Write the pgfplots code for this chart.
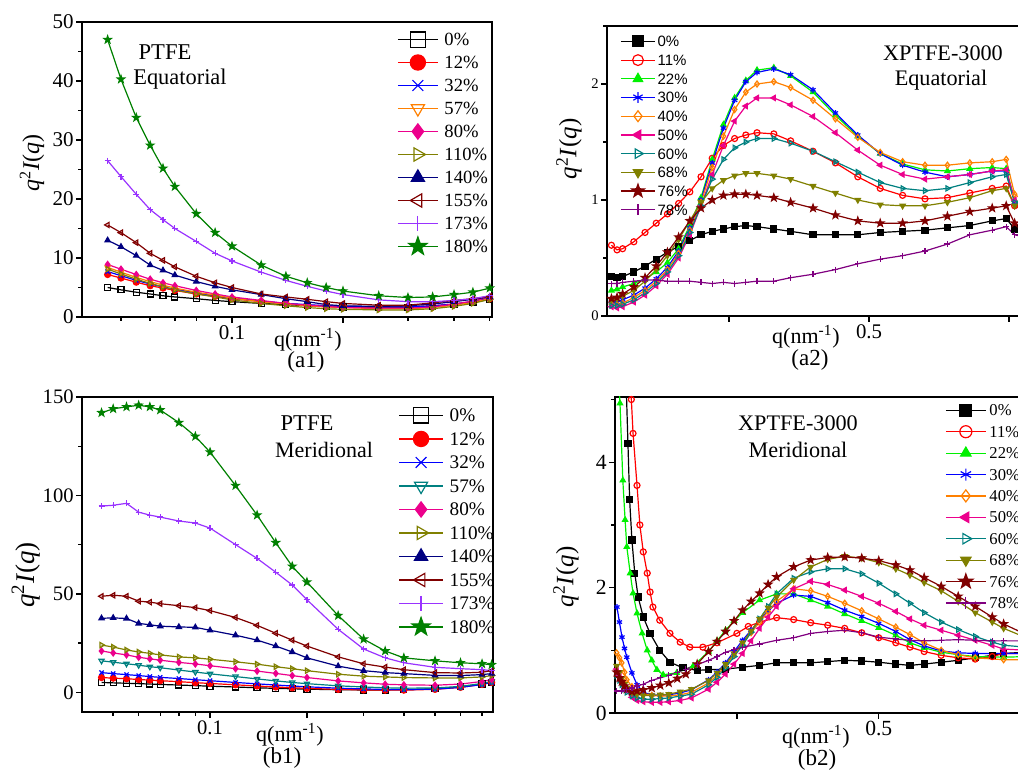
\documentclass[border=0pt]{standalone}
\usepackage{fontspec}
\setmainfont{Liberation Serif}
\newfontfamily\arialf{Liberation Sans}
\usepackage{pgfplots}
\usepackage{pgfplotstable}
\pgfplotsset{compat=1.18}
\newcommand{\fsz}[1]{\fontsize{#1}{#1}\selectfont}
\newcommand{\X}[1]{#1*0.5pt}
\newcommand{\Y}[1]{(772-#1)*0.5pt}
\definecolor{cOrange}{RGB}{255,128,0}
\definecolor{cOlive}{RGB}{128,128,0}
\definecolor{cNavy}{RGB}{0,0,128}
\definecolor{cMaroon}{RGB}{128,0,0}
\definecolor{cViolet}{RGB}{153,51,255}
\definecolor{cGreen}{RGB}{0,128,0}
\definecolor{cTeal}{RGB}{0,128,128}
\definecolor{cLime}{RGB}{0,240,0}
\definecolor{cPurple}{RGB}{128,0,128}
\pgfdeclareplotmark{fstar}{%
  \pgfpathmoveto{\pgfqpointpolar{90}{1.25\pgfplotmarksize}}%
  \pgfpathlineto{\pgfqpointpolar{126}{0.5\pgfplotmarksize}}%
  \pgfpathlineto{\pgfqpointpolar{162}{1.25\pgfplotmarksize}}%
  \pgfpathlineto{\pgfqpointpolar{198}{0.5\pgfplotmarksize}}%
  \pgfpathlineto{\pgfqpointpolar{234}{1.25\pgfplotmarksize}}%
  \pgfpathlineto{\pgfqpointpolar{270}{0.5\pgfplotmarksize}}%
  \pgfpathlineto{\pgfqpointpolar{306}{1.25\pgfplotmarksize}}%
  \pgfpathlineto{\pgfqpointpolar{342}{0.5\pgfplotmarksize}}%
  \pgfpathlineto{\pgfqpointpolar{18}{1.25\pgfplotmarksize}}%
  \pgfpathlineto{\pgfqpointpolar{54}{0.5\pgfplotmarksize}}%
  \pgfpathclose\pgfusepathqfillstroke}
\pgfplotsset{
  origin/.style={scale only axis, anchor=south west, tick align=outside, tick pos=left,
    axis line style={line width=0.85pt}, major tick length=3pt, minor tick length=1.8pt,
    every tick/.style={black, line width=0.7pt},
    /pgf/number format/assume math mode=true,
    legend cell align=left,
    every axis plot/.append style={line width=0.6pt, mark size=1.5pt},
    yticklabel style={inner sep=1pt}, xticklabel style={inner sep=1pt}},
  p0/.style={black, mark=square, mark options={solid,fill=white}},
  p12/.style={red, mark=*},
  p32/.style={blue, mark=x},
  p57/.style={cOrange, mark=triangle, mark options={solid,fill=white,rotate=180}},
  p57b/.style={cTeal, mark=triangle, mark options={solid,fill=white,rotate=180}},
  p80/.style={magenta, mark=diamond*},
  p110/.style={cOlive, mark=triangle, mark options={solid,fill=white,rotate=-90}},
  p140/.style={cNavy, mark=triangle*},
  p155/.style={cMaroon, mark=triangle, mark options={solid,fill=white,rotate=90}},
  p173/.style={cViolet, mark=+},
  p180/.style={cGreen, mark=fstar},
  x0/.style={black, mark=square*},
  x11/.style={red, mark=o, mark options={solid,fill=white}},
  x22/.style={cLime, mark=triangle*},
  x30/.style={blue, mark=asterisk},
  x40/.style={cOrange, mark=diamond, mark options={solid,fill=white}},
  x50/.style={magenta, mark=triangle*, mark options={rotate=90}},
  x60/.style={cTeal, mark=triangle, mark options={solid,fill=white,rotate=-90}},
  x68/.style={cOlive, mark=triangle*, mark options={rotate=180}},
  x76/.style={cMaroon, mark=fstar},
  x78/.style={cPurple, mark=+},
}
\pgfplotstableread{
q s0 s1 s2 s3 s4 s5 s6 s7 s8 s9
0.046 5.0 7.2 7.7 8.4 8.9 8.1 13.0 15.6 26.5 47.0
0.05  4.6 6.6 7.0 7.6 8.1 7.3 11.9 14.3 23.8 40.3
0.055 4.2 5.9 6.2 6.7 7.2 6.4 10.4 12.6 20.8 33.8
0.06  3.9 5.3 5.6 6.0 6.4 5.7 8.8 10.8 18.2 29.1
0.065 3.6 4.9 5.1 5.4 5.8 5.1 7.9 9.6 16.5 25.2
0.07  3.4 4.5 4.7 4.9 5.3 4.6 7.1 8.5 15.0 22.1
0.08  3.1 3.9 4.1 4.2 4.5 3.9 6.0 6.9 12.8 17.5
0.09  2.8 3.5 3.6 3.7 3.9 3.4 5.2 5.8 10.8 14.3
0.1   2.6 3.1 3.2 3.2 3.4 2.9 4.6 5.0 9.5 12.0
0.12  2.3 2.6 2.7 2.6 2.8 2.3 3.8 3.9 7.6 8.8
0.14  2.1 2.3 2.3 2.2 2.3 1.9 3.1 3.4 6.2 6.9
0.16  1.9 2.0 2.1 1.9 2.0 1.6 2.6 3.0 5.2 5.8
0.18  1.8 1.9 1.9 1.7 1.8 1.4 2.1 2.6 4.4 5.0
0.2   1.7 1.8 1.8 1.6 1.6 1.3 1.9 2.3 3.8 4.4
0.25  1.6 1.7 1.7 1.4 1.5 1.2 1.8 2.0 2.9 3.6
0.3   1.6 1.7 1.7 1.4 1.5 1.2 1.9 2.0 2.6 3.3
0.35  1.8 1.9 1.9 1.6 1.7 1.4 2.2 2.4 2.6 3.4
0.4   2.1 2.2 2.2 2.0 2.2 1.8 2.6 2.8 2.8 3.8
0.45  2.5 2.6 2.6 2.5 2.7 2.3 3.0 3.1 3.1 4.2
0.5   3.0 3.1 3.2 3.1 3.4 3.0 3.4 3.5 3.6 4.9
}\tAone
\pgfplotstableread{
q s0 s1 s2 s3 s4 s5 s6 s7 s8 s9
0.046 5.0 7.5 10.0 16.0 21.0 24.0 37.6 48.8 94.6 142
0.05  4.8 7.2 9.5 15.3 20.0 23.0 37.8 49.3 95.0 144
0.055 4.6 6.9 9.0 14.5 19.0 21.5 37.5 48.8 96.0 145
0.06  4.4 6.5 8.5 13.8 17.8 20.5 35.0 46.3 91.5 145.8
0.065 4.2 6.2 8.0 13.0 17.0 19.8 34.3 45.8 90.0 145
0.07  4.0 5.9 7.6 12.5 16.3 19.0 33.6 45.0 89.0 143.4
0.08  3.7 5.4 7.0 11.3 15.2 18.0 33.2 44.0 87.0 137
0.09  3.4 4.9 6.4 10.3 14.4 17.5 33.0 43.0 86.0 130
0.1   3.1 4.5 5.9 9.4 13.5 16.8 31.5 41.5 83.4 122
0.12  2.7 3.8 5.0 8.0 12.0 15.5 29.0 38.0 75.0 105
0.14  2.3 3.2 4.3 6.8 10.8 14.3 26.5 34.0 68.0 90
0.16  2.0 2.7 3.7 5.8 9.6 13.0 23.5 30.0 61.0 76
0.18  1.8 2.3 3.2 5.0 8.5 12.0 20.5 26.5 54.5 64
0.2   1.6 2.0 2.8 4.4 7.5 11.0 17.5 23.5 47.0 56
0.25  1.3 1.5 2.1 3.3 5.8 9.2 13.3 18.0 32.0 39
0.3   1.2 1.2 1.7 2.7 4.8 8.2 11.0 14.5 22.0 27
0.35  1.2 1.1 1.5 2.3 4.1 7.8 10.0 12.8 17.5 21
0.4   1.3 1.1 1.4 2.1 3.8 7.5 9.5 11.5 15.0 17.5
0.5   1.8 1.5 1.6 2.2 3.6 7.3 8.6 10.0 12.7 16
0.6   2.8 2.5 2.5 3.0 4.2 7.3 8.5 9.8 12.0 15
0.7   4.2 4.0 4.0 4.5 5.5 7.8 9.0 10.2 11.5 14.5
0.75  5.0 5.0 5.0 5.5 6.5 8.5 9.5 11.0 11.0 14
}\tBone
\pgfplotstableread{
q s0 s1 s2 s3 s4 s5 s6 s7 s8 s9
0.04  0.34 0.61 0.22 0.12 0.10 0.08 0.09 0.14 0.15 0.28
0.05  0.33 0.57 0.23 0.12 0.10 0.07 0.09 0.15 0.16 0.28
0.06  0.34 0.58 0.25 0.14 0.11 0.08 0.10 0.17 0.19 0.29
0.08  0.38 0.64 0.28 0.18 0.16 0.12 0.14 0.22 0.25 0.30
0.1   0.43 0.72 0.32 0.24 0.22 0.18 0.20 0.30 0.33 0.31
0.12  0.49 0.80 0.38 0.32 0.30 0.26 0.28 0.40 0.43 0.31
0.14  0.55 0.88 0.46 0.42 0.40 0.36 0.38 0.52 0.55 0.30
0.16  0.60 0.97 0.58 0.56 0.54 0.50 0.52 0.66 0.68 0.30
0.18  0.65 1.07 0.78 0.76 0.74 0.70 0.72 0.82 0.82 0.30
0.2   0.70 1.20 1.02 1.00 0.98 0.95 0.95 0.98 0.93 0.29
0.22  0.73 1.36 1.35 1.32 1.28 1.22 1.18 1.10 1.00 0.28
0.24  0.75 1.47 1.65 1.62 1.55 1.47 1.35 1.17 1.04 0.29
0.26  0.77 1.53 1.88 1.86 1.78 1.68 1.45 1.21 1.05 0.28
0.28  0.78 1.56 2.03 2.02 1.93 1.81 1.50 1.23 1.05 0.29
0.3   0.77 1.58 2.12 2.10 2.00 1.88 1.53 1.23 1.04 0.30
0.33  0.75 1.57 2.14 2.13 2.02 1.88 1.53 1.21 1.02 0.30
0.36  0.73 1.51 2.07 2.08 1.97 1.82 1.49 1.18 0.98 0.33
0.4   0.70 1.42 1.93 1.95 1.86 1.72 1.42 1.12 0.93 0.36
0.44  0.70 1.32 1.73 1.75 1.70 1.58 1.33 1.06 0.87 0.40
0.48  0.70 1.20 1.55 1.56 1.54 1.43 1.24 1.00 0.82 0.45
0.52  0.72 1.10 1.40 1.40 1.41 1.30 1.15 0.96 0.80 0.49
0.56  0.73 1.04 1.31 1.30 1.33 1.22 1.10 0.95 0.80 0.52
0.6   0.74 1.01 1.26 1.24 1.30 1.18 1.08 0.95 0.82 0.56
0.64  0.76 1.02 1.25 1.20 1.30 1.20 1.10 0.98 0.86 0.62
0.68  0.78 1.06 1.27 1.22 1.32 1.22 1.15 1.02 0.90 0.70
0.72  0.82 1.10 1.28 1.25 1.33 1.25 1.20 1.08 0.93 0.74
0.745 0.84 1.12 1.27 1.25 1.35 1.26 1.22 1.10 0.95 0.77
0.76  0.75 0.95 1.00 0.98 1.05 1.00 0.98 0.95 0.80 0.70
0.78  0.70 0.90 0.95 0.92 0.98 0.95 0.92 0.90 0.75 0.68
}\tAtwo
\begin{document}
\begin{tikzpicture}
% ---------------- (a1)
\begin{axis}[origin, at={({\X{82}},{\Y{317}})}, width=205pt, height=147.5pt,
  xmode=log, xmin=0.0392, xmax=0.507, ymin=0, ymax=50,
  xtick={0.1,0.2}, xticklabels={0.1,{}}, minor xtick={0.05,0.06,0.07,0.08,0.09,0.3,0.4,0.5},
  ytick={0,10,20,30,40,50}, minor y tick num=1,
  tick label style={font=\fsz{10.5}},
  legend style={at={(0.768,0.981)}, anchor=north west, draw=none, fill=none, inner sep=0pt,
    column sep=3pt, row sep=0pt, font=\fsz{9.3}, nodes={inner sep=0pt, text height=8.8pt, text depth=2.7pt}},
  legend image code/.code={\draw[mark repeat=2,mark phase=2,mark size=3.8pt] plot coordinates {(0pt,0pt) (10pt,0pt) (20pt,0pt)};}]
\addplot[p0] table[x=q,y=s0]{\tAone}; \addlegendentry{0\%}
\addplot[p12] table[x=q,y=s1]{\tAone}; \addlegendentry{12\%}
\addplot[p32] table[x=q,y=s2]{\tAone}; \addlegendentry{32\%}
\addplot[p57] table[x=q,y=s3]{\tAone}; \addlegendentry{57\%}
\addplot[p80] table[x=q,y=s4]{\tAone}; \addlegendentry{80\%}
\addplot[p110] table[x=q,y=s5]{\tAone}; \addlegendentry{110\%}
\addplot[p140] table[x=q,y=s6]{\tAone}; \addlegendentry{140\%}
\addplot[p155] table[x=q,y=s7]{\tAone}; \addlegendentry{155\%}
\addplot[p173] table[x=q,y=s8]{\tAone}; \addlegendentry{173\%}
\addplot[p180] table[x=q,y=s9]{\tAone}; \addlegendentry{180\%}
\end{axis}
% ---------------- (b1)
\begin{axis}[origin, at={({\X{82}},{\Y{712}})}, width=205.5pt, height=157.5pt,
  xmode=log, xmin=0.04, xmax=0.757, ymin=-10, ymax=150,
  xtick={0.1,0.2}, xticklabels={0.1,{}}, minor xtick={0.05,0.06,0.07,0.08,0.09,0.3,0.4,0.5,0.6,0.7},
  ytick={0,50,100,150}, minor y tick num=1,
  tick label style={font=\fsz{10.3}},
  legend style={at={(0.769,0.98)}, anchor=north west, draw=none, fill=none, inner sep=0pt,
    column sep=3pt, row sep=0pt, font=\fsz{9.6}, nodes={inner sep=0pt, text height=9.05pt, text depth=2.7pt}},
  legend image code/.code={\draw[mark repeat=2,mark phase=2,mark size=3.8pt] plot coordinates {(0pt,0pt) (11pt,0pt) (22pt,0pt)};}]
\addplot[p0] table[x=q,y=s0]{\tBone}; \addlegendentry{0\%}
\addplot[p12] table[x=q,y=s1]{\tBone}; \addlegendentry{12\%}
\addplot[p32] table[x=q,y=s2]{\tBone}; \addlegendentry{32\%}
\addplot[p57b] table[x=q,y=s3]{\tBone}; \addlegendentry{57\%}
\addplot[p80] table[x=q,y=s4]{\tBone}; \addlegendentry{80\%}
\addplot[p110] table[x=q,y=s5]{\tBone}; \addlegendentry{110\%}
\addplot[p140] table[x=q,y=s6]{\tBone}; \addlegendentry{140\%}
\addplot[p155] table[x=q,y=s7]{\tBone}; \addlegendentry{155\%}
\addplot[p173] table[x=q,y=s8]{\tBone}; \addlegendentry{173\%}
\addplot[p180] table[x=q,y=s9]{\tBone}; \addlegendentry{180\%}
\end{axis}
% ---------------- (a2)
\begin{axis}[origin, at={({\X{607}},{\Y{316}})}, width=215pt, height=145pt,
  xmin=0.0321, xmax=0.8, ymin=0, ymax=2.5,
  xtick={0.25,0.5,0.75}, xticklabels={{},0.5,{}},
  ytick={0,1,2}, minor ytick={0.5,1.5,2.5},
  xticklabel style={font=\fsz{10.4}}, yticklabel style={font=\fsz{7.3}},
  legend style={at={(0.0302,0.9805)}, anchor=north west, draw=none, fill=none, inner sep=0pt,
    column sep=1pt, row sep=0pt, font=\arialf\fsz{7.5}, nodes={inner sep=0pt, text height=7.4pt, text depth=1.95pt}},
  legend image code/.code={\draw[mark repeat=2,mark phase=2,mark size=2.7pt] plot coordinates {(0pt,0pt) (8.5pt,0pt) (17pt,0pt)};}]
\addplot[x0] table[x=q,y=s0]{\tAtwo}; \addlegendentry{0\%}
\addplot[x11] table[x=q,y=s1]{\tAtwo}; \addlegendentry{11\%}
\addplot[x22] table[x=q,y=s2]{\tAtwo}; \addlegendentry{22\%}
\addplot[x30] table[x=q,y=s3]{\tAtwo}; \addlegendentry{30\%}
\addplot[x40] table[x=q,y=s4]{\tAtwo}; \addlegendentry{40\%}
\addplot[x50] table[x=q,y=s5]{\tAtwo}; \addlegendentry{50\%}
\addplot[x60] table[x=q,y=s6]{\tAtwo}; \addlegendentry{60\%}
\addplot[x68] table[x=q,y=s7]{\tAtwo}; \addlegendentry{68\%}
\addplot[x76] table[x=q,y=s8]{\tAtwo}; \addlegendentry{76\%}
\addplot[x78] table[x=q,y=s9]{\tAtwo}; \addlegendentry{78\%}
\end{axis}
% ---------------- (b2)
\begin{axis}[origin, at={({\X{615}},{\Y{713}})}, width=217pt, height=158pt,
  xmin=0.0352, xmax=0.8, ymin=0, ymax=5.04,
  xtick={0.25,0.5,0.75}, xticklabels={{},0.5,{}},
  ytick={0,2,4}, minor ytick={1,3,5},
  tick label style={font=\fsz{10.8}},
  legend style={at={(0.76,0.993)}, anchor=north west, draw=none, fill=none, inner sep=0pt,
    column sep=1.5pt, row sep=0pt, font=\fsz{8.3}, nodes={inner sep=0pt, text height=8.1pt, text depth=2.6pt}},
  legend image code/.code={\draw[mark repeat=2,mark phase=2,mark size=3pt] plot coordinates {(0pt,0pt) (10pt,0pt) (20pt,0pt)};}]
\addplot[x0] coordinates {(0.052,6.0)(0.055,5.2)(0.058,4.3)(0.061,3.4)(0.065,2.76)(0.07,2.23)(0.076,1.85)(0.085,1.53)(0.097,1.27)(0.114,1.0)(0.132,0.81)(0.155,0.72)(0.18,0.68)(0.2,0.69)(0.23,0.7)(0.26,0.73)(0.29,0.76)(0.32,0.8)(0.35,0.8)(0.38,0.8)(0.41,0.82)(0.44,0.84)(0.47,0.83)(0.5,0.81)(0.53,0.78)(0.555,0.76)(0.58,0.78)(0.61,0.81)(0.64,0.84)(0.67,0.88)(0.7,0.92)(0.72,0.95)(0.76,0.97)};
\addlegendentry{0\%}
\addplot[x11] coordinates {(0.058,5.8)(0.064,5.0)(0.067,4.46)(0.074,3.63)(0.079,3.0)(0.085,2.57)(0.092,2.23)(0.097,1.93)(0.102,1.69)(0.114,1.48)(0.132,1.27)(0.15,1.13)(0.167,1.05)(0.19,1.05)(0.215,1.12)(0.25,1.27)(0.27,1.38)(0.29,1.45)(0.32,1.52)(0.35,1.49)(0.38,1.44)(0.41,1.4)(0.44,1.35)(0.47,1.28)(0.5,1.2)(0.53,1.12)(0.555,1.05)(0.58,0.98)(0.61,0.92)(0.64,0.88)(0.67,0.86)(0.7,0.9)(0.72,0.95)(0.76,0.95)};
\addlegendentry{11\%}
\addplot[x22] coordinates {(0.04,5.6)(0.044,4.94)(0.049,3.71)(0.053,3.08)(0.056,2.65)(0.062,2.23)(0.067,1.91)(0.074,1.59)(0.083,1.27)(0.092,1.0)(0.1,0.84)(0.109,0.69)(0.12,0.61)(0.144,0.64)(0.173,0.75)(0.2,0.98)(0.215,1.15)(0.23,1.32)(0.245,1.47)(0.26,1.6)(0.29,1.8)(0.32,1.9)(0.35,1.9)(0.38,1.8)(0.41,1.7)(0.44,1.58)(0.47,1.47)(0.5,1.36)(0.53,1.24)(0.555,1.12)(0.58,1.04)(0.61,0.97)(0.64,0.93)(0.67,0.9)(0.72,0.89)(0.76,0.9)};
\addlegendentry{22\%}
\addplot[x30] coordinates {(0.0387,1.69)(0.043,1.45)(0.0475,1.21)(0.052,1.03)(0.056,0.89)(0.065,0.64)(0.074,0.45)(0.085,0.33)(0.1,0.29)(0.115,0.28)(0.13,0.29)(0.15,0.32)(0.17,0.37)(0.2,0.53)(0.215,0.65)(0.23,0.8)(0.245,0.98)(0.26,1.16)(0.275,1.32)(0.29,1.48)(0.305,1.63)(0.32,1.75)(0.35,1.88)(0.38,1.86)(0.41,1.76)(0.44,1.64)(0.47,1.54)(0.5,1.43)(0.53,1.3)(0.555,1.17)(0.58,1.07)(0.61,0.99)(0.64,0.96)(0.67,0.95)(0.72,0.95)(0.76,0.95)};
\addlegendentry{30\%}
\addplot[x40] coordinates {(0.038,0.96)(0.043,0.88)(0.047,0.8)(0.052,0.65)(0.056,0.53)(0.065,0.42)(0.074,0.35)(0.085,0.31)(0.1,0.28)(0.115,0.27)(0.13,0.27)(0.15,0.29)(0.17,0.33)(0.2,0.48)(0.215,0.6)(0.23,0.75)(0.245,0.92)(0.26,1.1)(0.275,1.28)(0.29,1.45)(0.305,1.62)(0.32,1.78)(0.35,1.98)(0.38,1.95)(0.41,1.86)(0.44,1.75)(0.47,1.63)(0.5,1.5)(0.53,1.37)(0.555,1.25)(0.58,1.12)(0.61,1.0)(0.64,0.93)(0.67,0.88)(0.72,0.85)(0.76,0.85)};
\addlegendentry{40\%}
\addplot[x50] coordinates {(0.038,0.7)(0.043,0.6)(0.047,0.5)(0.052,0.42)(0.056,0.35)(0.065,0.25)(0.074,0.2)(0.085,0.18)(0.1,0.17)(0.115,0.17)(0.13,0.18)(0.15,0.2)(0.17,0.24)(0.2,0.38)(0.215,0.49)(0.23,0.62)(0.245,0.78)(0.26,0.95)(0.275,1.15)(0.29,1.35)(0.305,1.53)(0.32,1.7)(0.35,1.98)(0.38,2.1)(0.41,2.05)(0.44,1.96)(0.47,1.86)(0.5,1.75)(0.53,1.62)(0.555,1.5)(0.58,1.4)(0.61,1.32)(0.64,1.24)(0.67,1.16)(0.7,1.08)(0.72,1.02)(0.76,1.0)};
\addlegendentry{50\%}
\addplot[x60] coordinates {(0.038,0.6)(0.043,0.52)(0.047,0.45)(0.052,0.38)(0.056,0.33)(0.065,0.27)(0.074,0.24)(0.085,0.22)(0.1,0.22)(0.115,0.23)(0.13,0.24)(0.15,0.27)(0.17,0.3)(0.2,0.45)(0.215,0.57)(0.23,0.72)(0.245,0.9)(0.26,1.08)(0.275,1.29)(0.29,1.5)(0.305,1.7)(0.32,1.9)(0.35,2.15)(0.38,2.25)(0.41,2.3)(0.44,2.3)(0.47,2.22)(0.5,2.07)(0.53,1.9)(0.555,1.75)(0.58,1.6)(0.61,1.45)(0.64,1.33)(0.67,1.22)(0.7,1.13)(0.72,1.08)(0.76,1.05)};
\addlegendentry{60\%}
\addplot[x68] coordinates {(0.038,0.75)(0.043,0.65)(0.047,0.55)(0.052,0.46)(0.056,0.4)(0.065,0.33)(0.074,0.3)(0.085,0.28)(0.1,0.28)(0.115,0.29)(0.13,0.3)(0.15,0.34)(0.17,0.38)(0.2,0.52)(0.215,0.64)(0.23,0.78)(0.245,0.95)(0.26,1.12)(0.275,1.31)(0.29,1.5)(0.305,1.68)(0.32,1.85)(0.35,2.12)(0.38,2.33)(0.41,2.45)(0.44,2.5)(0.47,2.47)(0.5,2.4)(0.53,2.3)(0.555,2.2)(0.58,2.08)(0.61,1.95)(0.64,1.78)(0.67,1.6)(0.7,1.45)(0.72,1.35)(0.76,1.2)};
\addlegendentry{68\%}
\addplot[x76] coordinates {(0.038,0.65)(0.043,0.56)(0.047,0.5)(0.052,0.43)(0.056,0.38)(0.065,0.34)(0.074,0.35)(0.085,0.37)(0.1,0.4)(0.115,0.44)(0.13,0.48)(0.145,0.55)(0.16,0.62)(0.18,0.78)(0.2,0.98)(0.215,1.14)(0.23,1.3)(0.245,1.47)(0.26,1.64)(0.275,1.78)(0.29,1.91)(0.305,2.05)(0.32,2.17)(0.35,2.33)(0.38,2.44)(0.41,2.48)(0.44,2.49)(0.47,2.47)(0.5,2.43)(0.53,2.36)(0.555,2.28)(0.58,2.16)(0.61,2.02)(0.64,1.86)(0.67,1.7)(0.7,1.53)(0.72,1.42)(0.76,1.25)};
\addlegendentry{76\%}
\addplot[x78] coordinates {(0.038,0.35)(0.047,0.35)(0.056,0.37)(0.065,0.4)(0.074,0.43)(0.085,0.46)(0.1,0.52)(0.115,0.56)(0.13,0.6)(0.145,0.65)(0.16,0.7)(0.18,0.77)(0.2,0.84)(0.215,0.9)(0.23,0.97)(0.245,1.01)(0.26,1.05)(0.29,1.1)(0.32,1.16)(0.35,1.2)(0.38,1.27)(0.41,1.3)(0.44,1.32)(0.47,1.28)(0.5,1.21)(0.53,1.18)(0.555,1.16)(0.58,1.15)(0.61,1.16)(0.64,1.17)(0.67,1.16)(0.7,1.15)(0.72,1.15)(0.76,1.15)};
\addlegendentry{78\%}
\end{axis}
% ---------------- texts
\begin{scope}[every node/.style={inner sep=0pt}]
\node[font=\fsz{11.3}] at ({\X{165}},{\Y{52}}) {PTFE};
\node[font=\fsz{11.2}] at ({\X{180}},{\Y{79}}) {Equatorial};
\node[font=\fsz{11}] at ({\X{308}},{\Y{340}}) {q(nm\textsuperscript{-1})};
\node[font=\fsz{11.5}] at ({\X{306}},{\Y{362}}) {(a1)};
\node[rotate=90,font=\fsz{12}] at ({\X{32}},{\Y{163}}) {\textit{q}\textsuperscript{2}\textit{I}(\textit{q})};
\node[font=\fsz{11.3}] at ({\X{307}},{\Y{423}}) {PTFE};
\node[font=\fsz{11}] at ({\X{324}},{\Y{450}}) {Meridional};
\node[font=\fsz{11}] at ({\X{290}},{\Y{735}}) {q(nm\textsuperscript{-1})};
\node[font=\fsz{11.5}] at ({\X{282}},{\Y{758}}) {(b1)};
\node[rotate=90,font=\fsz{13.5}] at ({\X{26}},{\Y{575}}) {\textit{q}\textsuperscript{2}\textit{I}(\textit{q})};
\node[font=\fsz{11.1}] at ({\X{943}},{\Y{53}}) {XPTFE-3000};
\node[font=\fsz{11.1}] at ({\X{941}},{\Y{80}}) {Equatorial};
\node[font=\fsz{11}] at ({\X{806}},{\Y{337}}) {q(nm\textsuperscript{-1})};
\node[font=\fsz{11.5}] at ({\X{810}},{\Y{360}}) {(a2)};
\node[rotate=90,font=\fsz{12.5}] at ({\X{569}},{\Y{149}}) {\textit{q}\textsuperscript{2}\textit{I}(\textit{q})};
\node[font=\fsz{11.1}] at ({\X{798}},{\Y{423}}) {XPTFE-3000};
\node[font=\fsz{11.1}] at ({\X{798}},{\Y{450}}) {Meridional};
\node[font=\fsz{11}] at ({\X{816}},{\Y{737}}) {q(nm\textsuperscript{-1})};
\node[font=\fsz{11.5}] at ({\X{817}},{\Y{760}}) {(b2)};
\node[rotate=90,font=\fsz{12.5}] at ({\X{566}},{\Y{577}}) {\textit{q}\textsuperscript{2}\textit{I}(\textit{q})};
\end{scope}
\pgfresetboundingbox
\useasboundingbox (0,0) rectangle (509pt,386pt);
\end{tikzpicture}
\end{document}
